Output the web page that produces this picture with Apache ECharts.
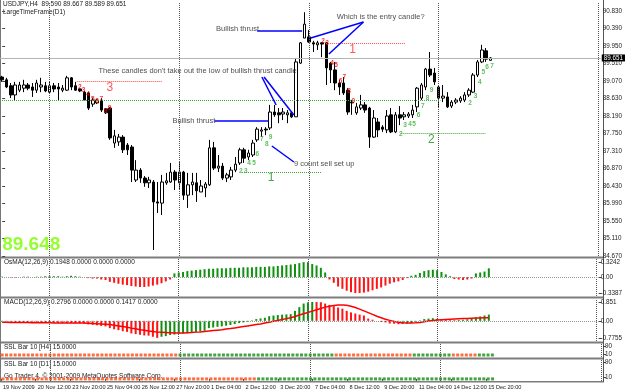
<!DOCTYPE html>
<html><head><meta charset="utf-8">
<script src="https://cdn.jsdelivr.net/npm/echarts@6/dist/echarts.min.js"></script>
<style>html,body{margin:0;padding:0;background:#fff}#c{width:625px;height:390px}</style>
</head><body><div id="c"></div>
<script>
// ---------- data ----------
const dateLabels = ['19 Nov 2009','20 Nov 12:00','23 Nov 20:00','25 Nov 04:00','26 Nov 12:00','27 Nov 20:00','1 Dec 04:00','2 Dec 12:00','3 Dec 20:00','7 Dec 04:00','8 Dec 12:00','9 Dec 20:00','11 Dec 04:00','14 Dec 12:00','15 Dec 20:00'];
const barsPerLabel = 8;
const emptySlots = 25; // chart shift area on the right

const open = [
89.17,89.10,88.95,88.72,88.84,88.89,88.97,88.92,88.84,88.92,
88.95,88.79,88.95,88.92,88.84,88.84,89.15,88.95,88.87,88.79,
88.77,88.49,88.52,88.59,88.37,88.39,87.51,87.54,87.66,87.46,
87.41,86.58,86.83,86.63,86.51,86.53,86.03,86.00,86.51,86.53,
86.78,86.51,86.78,86.20,86.46,86.51,86.28,86.38,86.46,87.39,
86.88,86.93,86.63,86.66,86.83,87.01,87.34,87.16,87.21,87.59,
87.81,87.86,87.89,88.29,88.27,88.24,88.22,88.27,88.17,89.52,
90.15,90.18,90.03,89.98,90.03,90.03,89.52,89.35,89.02,89.02,
88.84,88.54,88.27,88.39,88.47,88.39,87.66,88.04,87.91,87.84,
88.22,87.79,88.22,88.17,88.19,88.22,88.42,88.64,88.92,89.37,
89.27,88.92,88.64,88.67,88.44,88.54,88.57,88.59,88.72,88.79,
89.22,89.55,89.83,89.590];
const close = [
89.10,88.92,88.72,88.97,88.97,88.97,88.89,88.84,89.02,88.97,
88.82,88.95,88.87,88.87,88.89,89.15,88.92,88.84,88.82,88.59,
88.39,88.59,88.59,88.34,88.27,87.64,87.69,87.66,87.34,87.34,
86.83,86.83,86.63,86.51,86.58,86.03,86.00,86.53,86.56,86.78,
86.58,86.78,86.20,86.46,86.53,86.31,86.43,86.48,87.39,86.88,
86.93,86.63,86.71,86.83,86.98,87.34,87.13,87.26,87.51,87.86,
87.84,87.84,88.29,88.22,88.22,88.29,88.27,88.17,89.55,90.03,
90.50,90.05,90.00,90.03,90.00,89.40,89.35,89.02,88.92,88.77,
88.29,88.52,88.42,88.47,88.34,87.66,88.14,87.84,87.86,88.19,
87.79,88.22,88.14,88.22,88.24,88.34,88.89,88.97,89.37,89.22,
89.05,88.64,88.69,88.42,88.54,88.59,88.64,88.72,88.84,89.22,
89.55,89.85,89.62,89.651];
const high = [
89.20,89.15,89.02,89.05,89.05,89.10,89.02,89.02,89.10,89.15,
89.05,89.05,89.02,89.02,88.97,89.20,89.17,89.05,88.89,88.82,
88.79,88.64,88.62,88.64,88.39,88.42,87.84,87.74,87.71,87.51,
87.46,87.08,86.88,86.68,86.66,86.58,86.53,86.71,86.76,87.01,
86.83,87.03,86.81,86.76,86.76,86.76,86.58,86.53,87.59,87.54,
87.21,87.01,86.76,86.91,87.16,87.39,87.39,87.34,87.59,87.91,
87.91,87.91,88.47,88.47,88.39,88.39,88.34,88.29,89.65,90.05,
90.80,90.35,90.08,90.08,90.05,90.05,89.55,89.55,89.10,89.17,
88.89,88.59,88.52,88.72,88.54,88.42,88.34,88.14,87.96,88.34,
88.39,88.29,88.44,88.29,88.29,88.47,88.92,89.02,89.40,89.80,
89.40,88.97,88.97,88.79,88.59,88.64,88.69,88.79,88.89,89.27,
89.60,89.98,89.90,89.667];
const low = [
89.05,88.89,88.64,88.59,88.79,88.79,88.84,88.67,88.77,88.79,
88.79,88.77,88.79,88.59,88.79,88.82,88.84,88.82,88.79,88.57,
88.34,88.42,88.49,88.29,88.24,87.59,87.39,87.44,87.26,87.21,
86.53,86.53,86.51,86.41,86.38,84.82,85.75,85.70,86.46,86.51,
86.33,86.33,86.08,85.88,86.20,86.03,86.28,86.15,86.43,86.83,
86.78,86.58,86.53,86.58,86.78,86.96,87.01,87.08,87.16,87.54,
87.66,87.71,87.84,88.17,88.01,88.09,88.01,88.14,88.17,89.50,
90.15,90.03,89.80,89.85,89.67,88.97,89.02,88.84,88.72,88.72,
88.22,88.22,88.22,88.34,88.27,87.39,87.64,87.66,87.79,87.76,
87.76,87.76,87.96,88.09,88.14,88.14,88.29,88.59,88.84,89.17,
88.97,88.39,88.54,88.39,88.39,88.49,88.52,88.54,88.67,88.77,
89.17,89.52,89.55,89.589];

const osma = [
0.01,0.00,-0.01,-0.01,0.00,0.01,0.01,0.00,0.01,0.01,
0.02,0.02,0.02,0.02,0.01,0.02,0.03,0.02,0.01,0.00,
-0.02,-0.03,-0.03,-0.05,-0.06,-0.10,-0.12,-0.14,-0.16,-0.17,
-0.19,-0.20,-0.21,-0.21,-0.20,-0.18,-0.16,-0.13,-0.09,-0.05,
0.08,0.10,0.11,0.13,0.14,0.15,0.16,0.17,0.18,0.18,
0.19,0.19,0.19,0.20,0.20,0.20,0.21,0.21,0.21,0.22,
0.22,0.22,0.23,0.23,0.24,0.25,0.26,0.27,0.28,0.30,
0.32,0.32,0.28,0.25,0.20,0.10,-0.05,-0.12,-0.20,-0.25,
-0.29,-0.32,-0.34,-0.34,-0.33,-0.31,-0.28,-0.25,-0.22,-0.18,
-0.14,-0.11,-0.09,-0.06,-0.02,0.03,0.05,0.09,0.13,0.15,
0.16,0.15,0.11,0.06,0.02,-0.04,-0.05,-0.06,-0.05,-0.03,
0.08,0.10,0.12,0.19];
const macd = [
-0.05,-0.05,-0.06,-0.06,-0.07,-0.07,-0.07,-0.08,-0.08,-0.08,
-0.09,-0.09,-0.09,-0.10,-0.10,-0.10,-0.10,-0.11,-0.11,-0.12,
-0.16,-0.18,-0.20,-0.23,-0.25,-0.33,-0.38,-0.42,-0.47,-0.50,
-0.57,-0.60,-0.63,-0.66,-0.67,-0.72,-0.77,-0.72,-0.69,-0.64,
-0.62,-0.58,-0.57,-0.56,-0.52,-0.51,-0.48,-0.45,-0.33,-0.30,
-0.27,-0.25,-0.22,-0.19,-0.15,-0.10,-0.07,-0.04,0.02,0.08,
0.11,0.14,0.21,0.24,0.26,0.28,0.29,0.30,0.45,0.62,
0.78,0.83,0.85,0.85,0.84,0.78,0.72,0.66,0.60,0.55,
0.45,0.38,0.33,0.28,0.24,0.10,0.05,0.00,-0.05,-0.07,
-0.12,-0.13,-0.15,-0.14,-0.12,-0.10,-0.04,0.02,0.08,0.10,
0.12,0.09,0.07,0.04,0.03,0.03,0.04,0.05,0.07,0.10,
0.15,0.20,0.24,0.28];
const signal = [
-0.06,-0.06,-0.07,-0.07,-0.08,-0.08,-0.08,-0.09,-0.09,-0.09,
-0.09,-0.09,-0.10,-0.10,-0.10,-0.10,-0.10,-0.10,-0.10,-0.10,
-0.11,-0.12,-0.13,-0.14,-0.15,-0.17,-0.20,-0.23,-0.26,-0.29,
-0.33,-0.36,-0.40,-0.43,-0.46,-0.48,-0.51,-0.52,-0.53,-0.54,
-0.55,-0.55,-0.55,-0.54,-0.53,-0.51,-0.50,-0.48,-0.46,-0.44,
-0.42,-0.40,-0.37,-0.35,-0.32,-0.29,-0.26,-0.23,-0.20,-0.17,
-0.14,-0.10,-0.06,-0.02,0.02,0.06,0.10,0.14,0.20,0.26,
0.32,0.38,0.44,0.50,0.56,0.62,0.66,0.69,0.71,0.72,
0.70,0.66,0.60,0.53,0.45,0.37,0.29,0.21,0.14,0.07,
0.02,-0.03,-0.07,-0.09,-0.10,-0.10,-0.09,-0.07,-0.04,-0.01,
0.02,0.04,0.05,0.06,0.07,0.08,0.09,0.10,0.11,0.12,
0.13,0.13,0.14,0.14];
// SSL bar states per bar: r = red/orange, g = green
const sslH4 = 'rrrrrrrrrrrrrrrrrrrrrrrrrrrrrrrrrrrrrrrrr' + 'gggggggggggggggggggggggggggggggggggg' + 'rrrrrrrrrrrrrrrrrr' + 'ggggggggg' + 'rrrrrr' + 'gggg';
const sslD1 = 'rrrrrrrrrrrrrrrrrrrrrrrrrrrrrrrrrrrrrrrrrrrrrrrrrrrrrrrrrrr' + 'ggggggggggggggggggggggggggggggggggggggggggggggggggggggg';

const priceTicks = [84.67,85.11,85.55,85.99,86.43,86.87,87.31,87.75,88.19,88.63,89.07,89.51,89.95,90.39,90.83];
const osmaTicks = [-0.3387, 0, 0.3242];
const osmaTickText = ['-0.3387','0.00','0.3242'];
const macdTicks = [-0.7755, 0, 0.851];
const macdTickText = ['-0.7755','0.00','0.851'];
const sslTicks = [10, 90];
const bidPrice = 89.651;
const separatorBars = [11, 41, 71, 101, 138];

// TD sequential level lines (bar index from, to, price) and their big numbers
const levelFrom  = [17.25, -0.5, 74.9, 55.5, 92.2];
const levelTo    = [37.1, 101.4, 93.3, 73.96, 111.8];
const levelPrice = [89.058, 88.575, 90.026, 86.782, 87.763];
const levelSide  = ['r','g','r','g','g'];
const levelNumText  = ['3','1','1','2'];
const levelNumBar   = [24.9, 81.1, 62.2, 99.3];
const levelNumPrice = [88.894, 89.85, 86.632, 87.587];
const levelNumSide  = ['r','r','g','g'];

// TD count digits
const tdBar = [17.94,18.86,19.85,21.0,21.93,22.94,23.93,24.86,
  74.26,75.18,76.33,77.25,78.27,79.19,80.25,81.27,
  55.22,56.37,57.13,58.28,59.04,60.06,61.21,62.13,
  92.24,93.25,94.40,95.33,96.32,97.31,98.40,99.38,
  108.24,109.53,110.54,111.30,112.22,113.38];
const tdPrice = [88.912,88.844,88.744,88.618,88.550,88.618,88.316,88.384,
  90.076,90.018,89.516,89.473,89.053,89.163,88.819,88.550,
  86.790,86.790,87.001,87.001,87.227,87.612,87.486,87.645,
  87.730,87.964,87.982,87.989,88.216,88.449,88.635,88.844,
  88.510,88.693,89.038,89.304,89.415,89.430];
const tdText = ['2','3','4','5','6','7','8','9','2','3','4','5','6','7','8','9',
  '2','3','4','5','6','7','8','9','2','3','4','5','6','7','8','9','2','3','4','5','6','7'];
const tdSide = 'rrrrrrrrrrrrrrrrgggggggggggggggggggggg';

// annotation texts and blue pointer lines
const noteText  = ['Bullish thrust','Which is the entry candle?',"These candles don't take out the low of bullish thrust candle",'Bullish thrust','9 count sell set up'];
const noteBar   = [49.5, 77.4, 22.3, 39.4, 67.5];
const notePrice = [90.378, 90.68, 89.322, 88.065, 86.984];
const pointerFrom = [[59.0,90.328],[83.6,90.554],[83.6,90.554],[60.1,89.171],[60.6,89.171],[49.1,88.065],[62.4,87.436]];
const pointerTo   = [[69.4,90.328],[71.4,90.152],[75.6,89.749],[63.4,88.467],[67.5,88.216],[61.7,88.065],[67.5,87.034]];
const bigPriceText = '89.648';
const bigPriceAt = [0.0, 84.95];

// ---------- build chart ----------
const FONT = 'Liberation Sans';
const GREEN = '#119111', RED = '#ff1414';
const nBars = open.length;
const nSlots = nBars + emptySlots;
const cats = [];
for (let i = 0; i < nSlots; i++) {
  cats.push(i % barsPerLabel === 0 && i / barsPerLabel < dateLabels.length ? dateLabels[i / barsPerLabel] : '');
}
const L = 0, R = 22;
const grids = [
  {left:L, right:R, top:2, height:254},
  {left:L, right:R, top:259, height:37},
  {left:L, right:R, top:299, height:42},
  {left:L, right:R, top:344, height:13},
  {left:L, right:R, top:360, height:21}
];
const xAxes = grids.map((g, gi) => ({
  type:'category', gridIndex:gi, data:cats, boundaryGap:true,
  axisLine:{show:false},
  axisTick:{show: gi === 4, length:2, interval:(i)=> cats[i] !== '', lineStyle:{color:'#444'}},
  axisLabel:{show: gi === 4, interval:(i)=> cats[i] !== '', showMinLabel:true, showMaxLabel:true, hideOverlap:false,
    align:'left', fontSize:5.6, fontFamily:FONT, color:'#222', margin:3},
  splitLine:{show:false}
}));
xAxes.push({type:'value', gridIndex:0, min:-0.5, max:nSlots - 0.5, show:false});

function yAx(gi, min, max, ticks, fmt) {
  return {type:'value', gridIndex:gi, position:'right', min, max, scale:true,
    axisLine:{show:false}, splitLine:{show:false},
    axisTick:{show:true, length:3, customValues:ticks, lineStyle:{color:'#444'}},
    axisLabel:{customValues:ticks, fontSize:6.3, fontFamily:FONT, color:'#222', margin:2, formatter:fmt}};
}
const yAxes = [
  yAx(0, 84.67, 91.057, priceTicks, v => v.toFixed(3)),
  yAx(1, -0.4028, 0.3883, osmaTicks, v => osmaTickText[osmaTicks.indexOf(v)] ?? v),
  yAx(2, -0.911, 0.9865, macdTicks, v => macdTickText[macdTicks.indexOf(v)] ?? v),
  yAx(3, -20, 110, sslTicks, v => String(v)),
  yAx(4, -11.3, 100.7, sslTicks, v => String(v))
];

const vLines = separatorBars.map(b => ({xAxis:b}));
const dotted = {type:'dotted', color:'#555', width:1};
function sepMark(extra) {
  return {silent:true, symbol:'none', animation:false, label:{show:false},
    lineStyle:dotted, data: vLines.concat(extra || [])};
}

const series = [];
// candles
series.push({
  type:'candlestick', xAxisIndex:0, yAxisIndex:0, barWidth:3,
  data: open.map((o,i)=>[o, close[i], low[i], high[i]]),
  itemStyle:{color:'#ffffff', color0:'#000000', borderColor:'#000000', borderColor0:'#000000', borderWidth:1},
  markLine:{silent:true, symbol:'none', animation:false,
    data: vLines.map(v => Object.assign({lineStyle:dotted, label:{show:false}}, v)).concat([
      {yAxis:bidPrice, lineStyle:{type:'solid', color:'#b4b4b4', width:1},
       label:{show:true, position:'end', formatter: bidPrice.toFixed(3), backgroundColor:'#000', color:'#fff',
              fontSize:6.3, fontFamily:FONT, padding:[1,2,0,2], distance:1}}
    ])}
});
// level lines, pointers, notes (on value x-axis of main grid)
const levelLines = levelFrom.map((f,i)=>[
  {coord:[f, levelPrice[i]], lineStyle:{type:'dotted', width:1, color: levelSide[i]==='r' ? '#ff4a4a' : '#3aa83a'}},
  {coord:[levelTo[i], levelPrice[i]]}
]);
const pointerLines = pointerFrom.map((p,i)=>[
  {coord:p, lineStyle:{type:'solid', width:1.5, color:'#0000ff'}}, {coord:pointerTo[i]}
]);
series.push({
  type:'line', xAxisIndex:5, yAxisIndex:0, data:[], 
  markLine:{silent:true, symbol:'none', animation:false, label:{show:false}, data: levelLines.concat(pointerLines)}
});
series.push({
  type:'scatter', xAxisIndex:5, yAxisIndex:0, symbolSize:0, silent:true,
  data: noteText.map((t,i)=>({value:[noteBar[i], notePrice[i]], label:{formatter:t}})),
  label:{show:true, position:'right', distance:0, fontSize:7.5, fontFamily:FONT, color:'#1a1a1a'}
});
series.push({
  type:'scatter', xAxisIndex:5, yAxisIndex:0, symbolSize:0, silent:true,
  data: levelNumText.map((t,i)=>({value:[levelNumBar[i], levelNumPrice[i]],
    label:{formatter:t, color: levelNumSide[i]==='r' ? '#ff2a2a' : '#1a8f1a'}})),
  label:{show:true, position:'inside', fontSize:12, fontFamily:FONT}
});
series.push({
  type:'scatter', xAxisIndex:5, yAxisIndex:0, symbolSize:0, silent:true,
  data: tdText.map((t,i)=>({value:[tdBar[i], tdPrice[i]],
    label:{formatter:t, color: tdSide[i]==='r' ? '#ee0000' : '#35b035'}})),
  label:{show:true, position:'inside', fontSize:6.5, fontWeight:'bold', fontFamily:FONT}
});
series.push({
  type:'scatter', xAxisIndex:5, yAxisIndex:0, symbolSize:0, silent:true,
  data:[{value:bigPriceAt, label:{formatter:bigPriceText}}],
  label:{show:true, position:'right', distance:0, fontSize:19, fontWeight:'bold', fontFamily:FONT, color:'#7cfc00'}
});
// OsMA
series.push({
  type:'bar', xAxisIndex:1, yAxisIndex:1, barWidth:2,
  data: osma.map(v => ({value:v, itemStyle:{color: v >= 0 ? GREEN : RED}})),
  markLine: sepMark([{yAxis:0, lineStyle:{type:'dotted', color:'#999', width:1}}])
});
// MACD
series.push({
  type:'bar', xAxisIndex:2, yAxisIndex:2, barWidth:2,
  data: macd.map((v,i) => ({value:v, itemStyle:{color: (i === 0 || v > macd[i-1]) ? GREEN : RED}})),
  markLine: sepMark([{yAxis:0, lineStyle:{type:'dotted', color:'#999', width:1}}])
});
series.push({
  type:'line', xAxisIndex:2, yAxisIndex:2, data:signal, showSymbol:false,
  lineStyle:{color:'#ff0000', width:1.5}, itemStyle:{color:'#ff0000'}
});
// SSL bars
const SSL_R = '#ff4a12', SSL_G = '#168c16';
series.push({
  type:'scatter', xAxisIndex:3, yAxisIndex:3, symbol:'rect', symbolSize:[3,3],
  data: sslH4.split('').map((c,i)=>({value:[i,0], itemStyle:{color: c==='g' ? SSL_G : SSL_R}})),
  markLine: sepMark()
});
series.push({
  type:'scatter', xAxisIndex:4, yAxisIndex:4, symbol:'rect', symbolSize:[3,3],
  data: sslD1.split('').map((c,i)=>({value:[i,0], itemStyle:{color: c==='g' ? SSL_G : SSL_R}})),
  markLine: sepMark()
});

function txt(x, y, s) {
  return {type:'text', left:x, top:y, silent:true,
    style:{text:s, fontSize:6.5, fontFamily:FONT, fill:'#1a1a1a'}};
}
function hline(y, h, c) { return {type:'rect', left:0, top:y, silent:true, shape:{width:604, height:h}, style:{fill:c}}; }
const graphics = [
  hline(256.5, 2, '#7d7d7d'), hline(296.5, 2, '#7d7d7d'), hline(341.5, 2, '#7d7d7d'),
  hline(357.5, 2, '#7d7d7d'), hline(381, 1.5, '#7d7d7d'),
  {type:'rect', left:603, top:0, silent:true, shape:{width:1, height:382}, style:{fill:'#555'}},
  {type:'rect', left:0, top:0, silent:true, shape:{width:1, height:382}, style:{fill:'#777'}},
  txt(3, 1, 'USDJPY,H4  89.590 89.667 89.589 89.651'),
  txt(3, 9, 'LargeTimeFrame(D1)'),
  txt(4, 259, 'OsMA(12,26,9) 0.1948 0.0000 0.0000 0.0000'),
  txt(4, 299, 'MACD(12,26,9) 0.2796 0.0000 0.0000 0.1417 0.0000'),
  txt(4, 344, 'SSL Bar 10 [H4] 15.0000'),
  txt(4, 361, 'SSL Bar 10 [D1] 15.0000'),
  txt(4, 373, 'Go Trader 4, \u00a9 2001-2009 MetaQuotes Software Corp.')
];

const chart = echarts.init(document.getElementById('c'), null, {renderer:'canvas'});
chart.setOption({
  animation:false, backgroundColor:'#ffffff',
  grid:grids, xAxis:xAxes, yAxis:yAxes, series, graphic:graphics
});
</script></body></html>
